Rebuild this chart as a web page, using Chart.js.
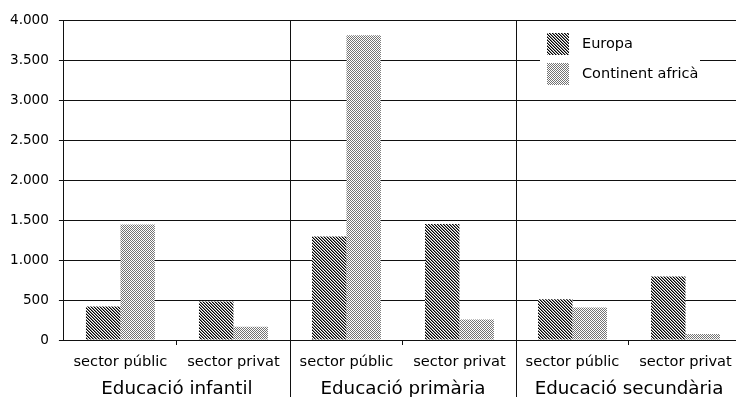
<!DOCTYPE html>
<html>
<head>
<meta charset="utf-8">
<script src="https://cdn.jsdelivr.net/npm/chart.js@4/dist/chart.umd.min.js"></script>
<style>
  html, body { margin: 0; padding: 0; background: #fff; overflow: hidden; }
  #wrap { position: relative; width: 744px; height: 397px; }
</style>
</head>
<body>
<div id="wrap"><canvas id="c"></canvas></div>
<script>
// ---- data ----
const categories = ['sector públic', 'sector privat', 'sector públic', 'sector privat', 'sector públic', 'sector privat'];
const groups = ['Educació infantil', 'Educació primària', 'Educació secundària'];
const seriesNames = ['Europa', 'Continent africà'];
const europa = [420, 480, 1295, 1450, 510, 795];
const africa = [1445, 165, 3810, 255, 405, 75];
const yMin = 0, yMax = 4000, yStep = 500;

// ---- patterns ----
function makePattern(size, fn) {
  const c = document.createElement('canvas');
  c.width = size; c.height = size;
  const g = c.getContext('2d');
  const img = g.createImageData(size, size);
  for (let y = 0; y < size; y++) for (let x = 0; x < size; x++) {
    const v = fn(x, y);
    const i = (y * size + x) * 4;
    img.data[i] = v; img.data[i + 1] = v; img.data[i + 2] = v; img.data[i + 3] = 255;
  }
  g.putImageData(img, 0, 0);
  return g.createPattern(c, 'repeat');
}
const ctx = document.getElementById('c').getContext('2d');
const hatch = makePattern(3, (x, y) => {
  const d = ((x - y) % 3 + 3) % 3;
  return d === 0 ? 0 : (d === 1 ? 130 : 255);
});
const dots = makePattern(2, (x, y) => ((x + y) % 2 === 0 ? 115 : 255));
const fills = [hatch, dots];

function fmt(v) {
  return String(v).replace(/\B(?=(\d{3})+(?!\d))/g, '.');
}

const FONT = "'DejaVu Sans', sans-serif";

const groupPlugin = {
  id: 'groupSep',
  afterDraw(chart) {
    const x = chart.scales.x, a = chart.chartArea, g = chart.ctx;
    g.save();
    g.strokeStyle = '#111';
    g.lineWidth = 1;
    for (let i = 2; i < categories.length; i += 2) {
      const px = Math.round((x.getPixelForValue(i - 1) + x.getPixelForValue(i)) / 2) + 0.5;
      g.beginPath();
      g.moveTo(px, a.top);
      g.lineTo(px, chart.height);
      g.stroke();
    }
    // legend box
    const lx = 540, ly = 25, lw = 160, lh = 70;
    g.fillStyle = '#fff';
    g.fillRect(lx, ly, lw, lh);
    g.font = '14.5px ' + FONT;
    g.textBaseline = 'middle';
    g.textAlign = 'left';
    chart.data.datasets.forEach((ds, k) => {
      const sy = 33 + k * 30;
      g.fillStyle = ds.backgroundColor;
      g.fillRect(547, sy, 22, 22);
      g.fillStyle = '#000';
      g.fillText(ds.label, 582, sy + 11);
    });
    g.restore();
  }
};

new Chart(ctx, {
  type: 'bar',
  data: {
    labels: categories,
    datasets: [
      { label: seriesNames[0], data: europa, backgroundColor: fills[0], borderWidth: 0 },
      { label: seriesNames[1], data: africa, backgroundColor: fills[1], borderWidth: 0 }
    ]
  },
  options: {
    responsive: true,
    maintainAspectRatio: false,
    animation: false,
    devicePixelRatio: 1,
    categoryPercentage: 0.61,
    barPercentage: 1.0,
    layout: { padding: { top: 20, left: 0, right: 2, bottom: 0 } },
    plugins: { legend: { display: false }, tooltip: { enabled: false } },
    scales: {
      x: {
        position: 'bottom',
        offset: true,
        afterFit: (s) => { s.height = 29; },
        grid: {
          offset: true,
          drawOnChartArea: false,
          tickLength: 5,
          tickColor: (c) => (c.index % 2 === 1 ? '#111' : 'rgba(0,0,0,0)'),
          lineWidth: 1
        },
        border: { display: true, color: '#111', width: 1 },
        ticks: { font: { family: FONT, size: 14.6 }, color: '#000', padding: 8, maxRotation: 0, autoSkip: false }
      },
      x2: {
        type: 'category',
        position: 'bottom',
        labels: groups,
        offset: true,
        afterFit: (s) => { s.height = 28; },
        grid: { display: false, drawTicks: false },
        border: { display: false },
        ticks: { font: { family: FONT, size: 18.3 }, color: '#000', padding: 9, maxRotation: 0, autoSkip: false }
      },
      y: {
        min: yMin,
        max: yMax,
        ticks: { stepSize: yStep, callback: (v) => fmt(v), font: { family: FONT, size: 13.6 }, color: '#000', padding: 10 },
        grid: { color: '#111', lineWidth: 1, tickLength: 5, tickColor: '#111' },
        border: { display: true, color: '#111', width: 1 }
      }
    }
  },
  plugins: [groupPlugin]
});
</script>
</body>
</html>
